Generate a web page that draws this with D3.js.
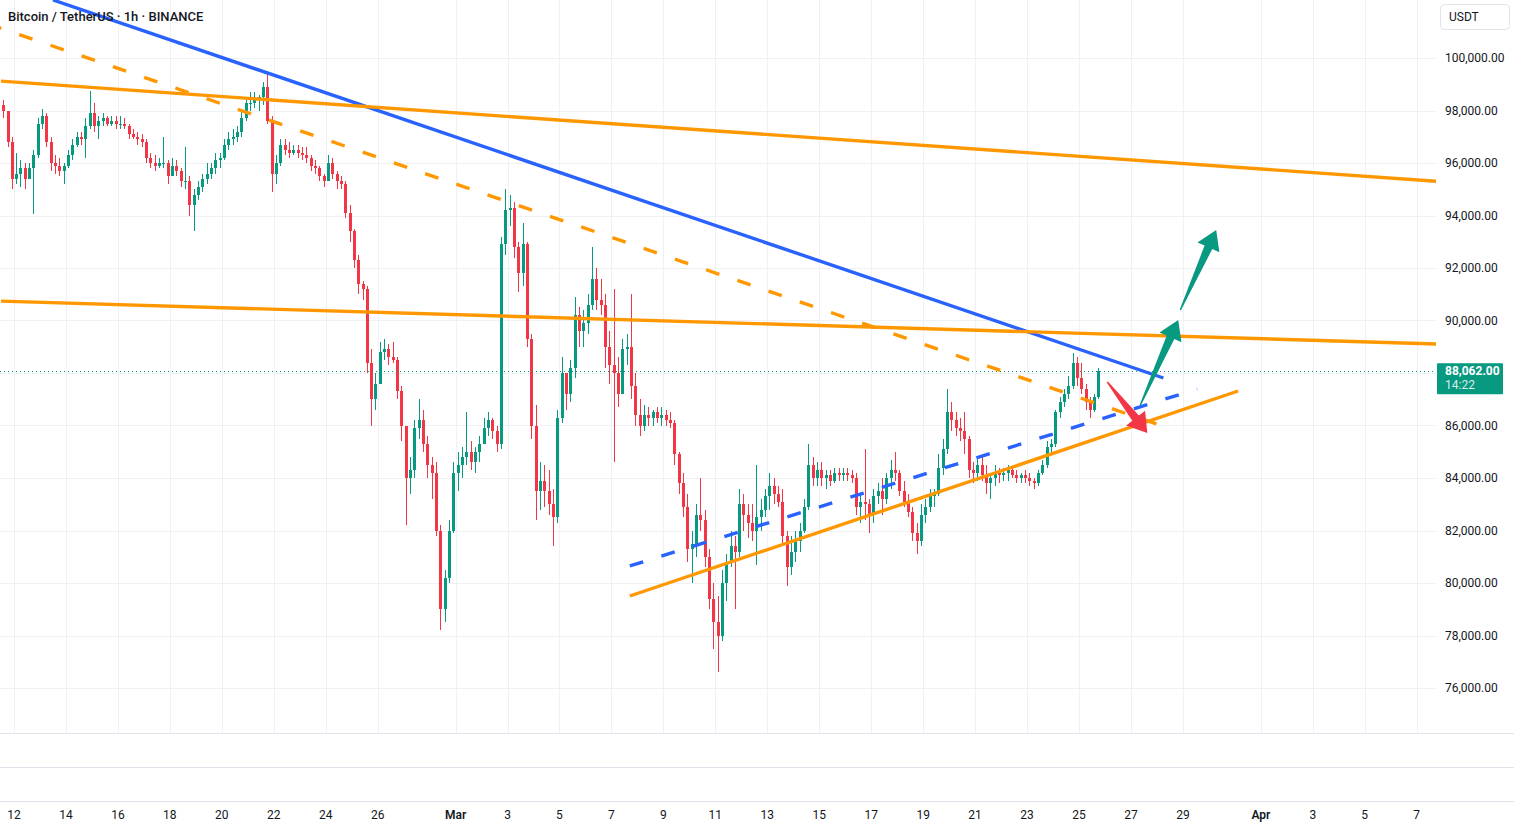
<!DOCTYPE html>
<html>
<head>
<meta charset="utf-8">
<script src="https://cdn.jsdelivr.net/npm/d3@7"></script>
<style>
  html, body { margin: 0; padding: 0; background: #fff; overflow: hidden; }
  svg { display: block; font-family: Roboto, "Liberation Sans", sans-serif; }
</style>
</head>
<body>
<svg id="chart" width="1514" height="829"></svg>
<script>
// BTC/USDT, 4h candles (prices in thousands USDT)
// first candle opens 2025-02-11 12:00 UTC, one value per 4 hours
const firstOpen = 98.2;
const highs = [
  98.4, 97.8, 97.0,
  96.4, 96.1, 96.0, 96.0, 96.5, 97.7,
  98.05, 97.9, 97.0, 96.3, 96.2, 96.0,
  96.5, 96.9, 97.2, 97.2, 97.7, 98.75,
  98.3, 97.8, 97.9, 97.8, 97.8, 97.8,
  97.8, 97.7, 97.5, 97.3, 97.2, 97.1,
  96.9, 96.4, 96.3, 96.2, 97.0, 96.1,
  96.2, 96.1, 95.8, 96.6, 95.5, 95.0,
  95.3, 95.6, 96.0, 96.0, 96.4, 96.4,
  96.9, 97.2, 97.3, 97.4, 98.0, 98.5,
  98.7, 98.7, 98.6, 99.1, 99.45, 97.8,
  96.3, 96.9, 96.9, 96.8, 96.7, 96.7,
  96.6, 96.6, 96.3, 96.1, 95.9, 95.6,
  96.3, 96.2, 95.7, 95.5, 95.3, 94.4,
  93.5, 92.5, 91.5, 91.3, 88.9, 88.0,
  89.2, 89.3, 89.1, 89.2, 88.6, 87.5,
  86.0, 84.8, 86.2, 87.0, 86.6, 85.6,
  84.8, 84.6, 82.2, 80.5, 82.4, 84.6,
  85.0, 85.2, 86.5, 85.4, 85.2, 85.6,
  86.3, 86.5, 86.3, 86.0, 93.2, 95.0,
  94.8, 94.5, 93.0, 93.7, 93.0, 89.5,
  86.8, 84.6, 84.5, 84.3, 83.6, 86.6,
  88.6, 88.0, 88.5, 90.9, 90.5, 90.4,
  91.0, 92.8, 92.0, 91.6, 91.0, 89.6,
  91.2, 88.6, 89.3, 89.5, 91.0, 88.0,
  87.0, 86.8, 86.7, 86.6, 86.7, 86.7,
  86.6, 86.5, 86.2, 85.0, 84.2, 83.4,
  82.0, 83.0, 84.0, 82.8, 81.3, 80.0,
  79.5, 80.5, 81.1, 82.0, 81.8, 83.6,
  83.4, 83.0, 83.0, 84.5, 83.2, 83.6,
  84.2, 84.0, 83.7, 83.6, 82.0, 81.8,
  82.0, 82.3, 83.2, 85.3, 84.8, 84.6,
  84.6, 84.3, 84.3, 84.4, 84.4, 84.4,
  84.4, 84.3, 84.2, 83.4, 85.1, 83.2,
  83.6, 83.8, 84.0, 84.2, 84.7, 85.0,
  84.3, 83.9, 83.4, 82.9, 82.3, 83.0,
  83.2, 83.6, 83.6, 84.9, 85.5, 87.4,
  86.9, 86.5, 86.3, 86.5, 85.6, 84.6,
  84.8, 84.8, 84.5, 84.2, 84.5, 84.4,
  84.4, 84.5, 84.4, 84.3, 84.2, 84.3,
  84.2, 84.0, 84.3, 84.7, 85.4, 85.5,
  86.6, 87.1, 87.4, 87.9, 88.75, 88.6,
  88.4, 87.6, 87.1, 87.2, 88.2
];
const lows = [
  97.7, 96.6, 95.0,
  95.2, 95.1, 95.0, 95.5, 94.05, 96.2,
  97.3, 96.6, 95.7, 95.6, 95.5, 95.2,
  95.8, 96.1, 96.6, 96.7, 96.2, 97.3,
  97.2, 96.9, 97.4, 97.4, 97.4, 97.3,
  97.3, 97.3, 96.9, 96.9, 96.7, 96.6,
  96.0, 95.8, 95.7, 95.8, 95.8, 95.2,
  95.6, 95.5, 95.1, 95.0, 94.0, 93.4,
  94.6, 94.9, 95.2, 95.4, 95.6, 95.8,
  96.1, 96.5, 96.7, 96.8, 97.0, 97.6,
  98.0, 98.1, 98.0, 98.2, 97.5, 94.9,
  95.2, 95.9, 96.3, 96.2, 96.3, 96.2,
  96.1, 96.0, 95.7, 95.6, 95.3, 95.1,
  95.3, 95.4, 95.0, 95.0, 93.9, 93.0,
  92.0, 91.0, 90.8, 88.0, 86.0, 86.6,
  87.8, 88.5, 88.3, 88.4, 87.0, 85.4,
  82.2, 83.4, 84.0, 85.5, 85.0, 84.0,
  83.2, 81.8, 78.2, 78.5, 80.0, 81.9,
  83.5, 84.0, 84.5, 84.3, 84.2, 84.6,
  85.4, 85.6, 85.5, 85.0, 85.1, 92.5,
  93.6, 92.4, 91.1, 91.3, 89.0, 85.5,
  82.4, 82.8, 82.9, 82.6, 81.4, 82.3,
  86.1, 86.6, 86.9, 87.8, 89.0, 89.0,
  89.5, 90.4, 90.4, 90.2, 88.2, 87.6,
  84.6, 86.7, 87.9, 88.3, 87.0, 86.0,
  85.6, 85.8, 86.0, 86.0, 86.1, 86.0,
  86.0, 85.9, 84.5, 83.4, 82.5, 80.8,
  80.0, 81.0, 82.0, 80.6, 79.0, 77.5,
  76.6, 77.8, 79.3, 80.6, 79.0, 81.0,
  82.0, 81.7, 81.6, 80.7, 82.0, 82.5,
  82.8, 83.0, 82.9, 81.4, 79.9, 80.3,
  80.8, 81.2, 81.9, 82.8, 83.7, 83.7,
  83.7, 83.6, 83.7, 83.8, 83.9, 83.9,
  83.9, 83.8, 82.6, 82.3, 82.4, 81.9,
  82.3, 83.0, 82.6, 83.0, 83.6, 83.9,
  83.3, 82.9, 82.5, 81.6, 81.1, 81.4,
  82.3, 82.7, 82.9, 83.3, 84.1, 84.9,
  85.8, 85.6, 85.4, 84.9, 84.0, 83.8,
  83.9, 83.9, 83.4, 83.2, 83.7, 83.8,
  83.9, 83.9, 84.0, 83.8, 83.8, 83.8,
  83.7, 83.6, 83.7, 84.1, 84.4, 84.9,
  85.2, 86.3, 86.7, 87.0, 87.4, 87.5,
  87.2, 86.6, 86.3, 86.5, 87.0
];
const closes = [
  98.0, 96.8, 95.4,
  95.6, 95.8, 95.4, 95.8, 96.3, 97.5,
  97.8, 96.8, 96.0, 95.9, 95.7, 95.9,
  96.3, 96.7, 97.0, 96.9, 97.4, 97.9,
  97.4, 97.6, 97.7, 97.5, 97.6, 97.5,
  97.5, 97.4, 97.1, 97.0, 96.9, 96.8,
  96.2, 96.0, 95.9, 96.0, 96.0, 95.5,
  95.9, 95.7, 95.3, 95.3, 94.4, 94.8,
  95.1, 95.4, 95.6, 95.8, 96.1, 96.2,
  96.7, 96.9, 97.0, 97.2, 97.7, 98.3,
  98.3, 98.4, 98.5, 98.9, 97.6, 95.6,
  96.0, 96.7, 96.5, 96.4, 96.5, 96.4,
  96.3, 96.2, 95.9, 95.8, 95.5, 95.3,
  96.0, 95.6, 95.3, 95.2, 94.1, 93.4,
  92.3, 91.4, 91.2, 88.4, 87.0, 87.6,
  88.8, 88.9, 88.6, 88.5, 87.3, 86.0,
  84.0, 84.3, 85.9, 86.2, 85.3, 84.5,
  84.2, 82.0, 79.0, 80.2, 82.0, 84.2,
  84.5, 84.8, 85.0, 84.6, 85.0, 85.3,
  85.9, 86.2, 85.8, 85.3, 92.9, 94.2,
  94.3, 92.8, 91.8, 92.9, 89.3, 86.0,
  83.5, 83.9, 83.5, 83.0, 82.5, 86.3,
  88.0, 87.2, 88.2, 90.2, 89.6, 89.9,
  90.6, 91.6, 90.8, 90.6, 89.0, 88.3,
  88.0, 87.2, 88.9, 89.0, 87.5, 86.4,
  86.0, 86.4, 86.3, 86.5, 86.3, 86.4,
  86.2, 86.1, 84.9, 83.8, 82.9, 81.3,
  81.5, 82.6, 82.4, 81.0, 79.4, 78.5,
  78.0, 80.0, 80.8, 81.4, 81.2, 83.0,
  82.6, 82.3, 82.0, 82.5, 82.8, 83.3,
  83.7, 83.4, 83.1, 81.8, 80.6, 81.2,
  81.6, 82.0, 82.9, 84.5, 84.0, 84.3,
  84.0, 84.1, 83.9, 84.2, 84.1, 84.2,
  84.1, 84.0, 82.9, 83.1, 83.0, 82.6,
  83.3, 83.5, 83.2, 84.0, 84.3, 84.2,
  83.5, 83.1, 82.7, 81.9, 81.6, 82.6,
  82.9, 83.3, 83.4, 84.4, 85.1, 86.5,
  86.2, 85.9, 85.8, 85.5, 84.3, 84.2,
  84.5, 84.1, 83.8, 84.0, 84.2, 84.1,
  84.2, 84.3, 84.1, 84.0, 84.1, 84.0,
  83.9, 83.8, 84.2, 84.5, 85.2, 85.3,
  86.5, 86.9, 87.2, 87.5, 88.4, 87.8,
  87.4, 86.9, 86.6, 87.1, 88.062
];

const priceTicks = [76000, 78000, 80000, 82000, 84000, 86000, 88000, 90000, 92000, 94000, 96000, 98000, 100000];
const timeTicks = ["2025-02-12", "2025-02-14", "2025-02-16", "2025-02-18", "2025-02-20", "2025-02-22",
  "2025-02-24", "2025-02-26", "2025-03-01", "2025-03-03", "2025-03-05", "2025-03-07", "2025-03-09",
  "2025-03-11", "2025-03-13", "2025-03-15", "2025-03-17", "2025-03-19", "2025-03-21", "2025-03-23",
  "2025-03-25", "2025-03-27", "2025-03-29", "2025-04-01", "2025-04-03", "2025-04-05", "2025-04-07"];
const timeTickLabels = ["12", "14", "16", "18", "20", "22", "24", "26", "Mar", "3", "5", "7", "9",
  "11", "13", "15", "17", "19", "21", "23", "25", "27", "29", "Apr", "3", "5", "7"];

const lastPrice = 88062;
const countdown = "14:22";

// drawings: [time, price] anchors
const solidLines = [
  { color: "#2962FF", pts: [["2025-02-13T12:00Z", 102210], ["2025-03-28T06:00Z", 87810]] },
  { color: "#FF9800", pts: [["2025-02-11T12:00Z", 99120], ["2025-04-08T00:00Z", 95290]] },
  { color: "#FF9800", pts: [["2025-02-11T12:00Z", 90740], ["2025-04-08T00:00Z", 89100]] },
  { color: "#FF9800", pts: [["2025-03-07T17:00Z", 79505], ["2025-03-31T03:00Z", 87314]] }
];
const dashedLines = [
  { color: "#FF9800", pts: [["2025-02-11T00:00Z", 101300], ["2025-03-28T10:30Z", 85905]] },
  { color: "#2962FF", pts: [["2025-03-07T17:00Z", 80648], ["2025-03-29T13:12Z", 87390]] }
];
const arrows = [
  { color: "#089981", from: ["2025-03-27T08:40Z", 86781], to: ["2025-03-28T19:40Z", 90019] },
  { color: "#089981", from: ["2025-03-28T21:36Z", 90400], to: ["2025-03-30T06:45Z", 93448] },
  { color: "#F23645", from: ["2025-03-26T02:10Z", 87657], to: ["2025-03-27T15:07Z", 85714] }
];

const width = 1514, height = 829;
const paneW = 1436, paneH = 733;
const upColor = "#089981", downColor = "#F23645";
const textColor = "#131722";

const svg = d3.select("#chart");

const x = d3.scaleUtc()
    .domain([new Date("2025-02-12T00:00Z"), new Date("2025-04-07T00:00Z")])
    .range([14, 1416.7]);
const y = d3.scaleLinear()
    .domain([76000, 100000])
    .range([688, 58]);

const barMs = 4 * 3600 * 1000;
const startMs = Date.parse("2025-02-11T12:00Z");
const candles = closes.map((c, i) => ({
  t: new Date(startMs + i * barMs + barMs / 2),
  o: (i ? closes[i - 1] : firstOpen) * 1000,
  h: highs[i] * 1000,
  l: lows[i] * 1000,
  c: c * 1000
}));

svg.append("rect").attr("width", width).attr("height", height).attr("fill", "#fff");

svg.append("defs").append("clipPath").attr("id", "pane")
  .append("rect").attr("x", 0).attr("y", 0).attr("width", paneW).attr("height", paneH);

// grid
const grid = svg.append("g").attr("shape-rendering", "crispEdges");
grid.selectAll("line.v")
    .data(timeTicks)
    .join("line")
        .attr("class", "v")
        .attr("x1", d => Math.round(x(new Date(d + "T00:00Z"))) + 0.5)
        .attr("x2", d => Math.round(x(new Date(d + "T00:00Z"))) + 0.5)
        .attr("y1", 0)
        .attr("y2", paneH)
        .attr("stroke", "#f0f1f4");
grid.selectAll("line.h")
    .data(priceTicks)
    .join("line")
        .attr("class", "h")
        .attr("x1", 0)
        .attr("x2", paneW)
        .attr("y1", d => Math.round(y(d)) + 0.5)
        .attr("y2", d => Math.round(y(d)) + 0.5)
        .attr("stroke", "#f0f1f4");

// pane separators
svg.append("g").attr("shape-rendering", "crispEdges")
  .selectAll("line")
    .data([733, 767, 801])
    .join("line")
        .attr("x1", 0)
        .attr("x2", width)
        .attr("y1", d => d + 0.5)
        .attr("y2", d => d + 0.5)
        .attr("stroke", "#e0e3eb");

const pane = svg.append("g").attr("clip-path", "url(#pane)");

// candles
const candleG = pane.append("g").attr("shape-rendering", "crispEdges");
const bodyW = 3;
candleG.selectAll("line")
    .data(candles)
    .join("line")
        .attr("x1", d => Math.round(x(d.t)) + 0.5)
        .attr("x2", d => Math.round(x(d.t)) + 0.5)
        .attr("y1", d => y(d.h))
        .attr("y2", d => y(d.l))
        .attr("stroke", d => d.c >= d.o ? upColor : downColor);
candleG.selectAll("rect")
    .data(candles)
    .join("rect")
        .attr("x", d => Math.round(x(d.t)) - 1)
        .attr("y", d => y(Math.max(d.o, d.c)))
        .attr("width", bodyW)
        .attr("height", d => Math.max(1, Math.abs(y(d.o) - y(d.c))))
        .attr("fill", d => d.c >= d.o ? upColor : downColor);

// last price dotted line
pane.append("line")
    .attr("x1", 0)
    .attr("x2", paneW)
    .attr("y1", Math.round(y(lastPrice)) + 0.5)
    .attr("y2", Math.round(y(lastPrice)) + 0.5)
    .attr("stroke", upColor)
    .attr("stroke-width", 1)
    .attr("stroke-dasharray", "1,3");

// trend lines
const line = d3.line()
    .x(d => x(new Date(d[0])))
    .y(d => y(d[1]));

pane.selectAll("path.solid")
    .data(solidLines)
    .join("path")
        .attr("class", "solid")
        .attr("d", d => line(d.pts))
        .attr("fill", "none")
        .attr("stroke", d => d.color)
        .attr("stroke-width", 3.4);

pane.selectAll("path.dashed")
    .data(dashedLines)
    .join("path")
        .attr("class", "dashed")
        .attr("d", d => line(d.pts))
        .attr("fill", "none")
        .attr("stroke", d => d.color)
        .attr("stroke-width", 3.4)
        .attr("stroke-dasharray", "14,19");

// arrow markers
function arrowPoints(a) {
  const x0 = x(new Date(a.from[0])), y0 = y(a.from[1]);
  const x1 = x(new Date(a.to[0])), y1 = y(a.to[1]);
  const len = Math.hypot(x1 - x0, y1 - y0);
  const ux = (x1 - x0) / len, uy = (y1 - y0) / len;
  const nx = -uy, ny = ux;
  const headLen = 19, headHalf = 12, shaftHalf = 4.2, tailHalf = 0.7;
  const bx = x1 - ux * headLen, by = y1 - uy * headLen;
  return [
    [x0 + nx * tailHalf, y0 + ny * tailHalf],
    [bx + nx * shaftHalf, by + ny * shaftHalf],
    [bx + nx * headHalf, by + ny * headHalf],
    [x1, y1],
    [bx - nx * headHalf, by - ny * headHalf],
    [bx - nx * shaftHalf, by - ny * shaftHalf],
    [x0 - nx * tailHalf, y0 - ny * tailHalf]
  ].map(p => p.join(",")).join(" ");
}

pane.selectAll("polygon")
    .data(arrows)
    .join("polygon")
        .attr("points", arrowPoints)
        .attr("fill", d => d.color);

// title
svg.append("text")
    .attr("x", 8)
    .attr("y", 21)
    .attr("font-size", 13)
    .attr("font-weight", 500)
    .attr("fill", textColor)
    .text("Bitcoin / TetherUS · 1h · BINANCE");

// price scale
svg.append("rect")
    .attr("x", 1440.5)
    .attr("y", 4.5)
    .attr("width", 69)
    .attr("height", 25)
    .attr("rx", 4)
    .attr("fill", "#fff")
    .attr("stroke", "#e0e3eb");
svg.append("text")
    .attr("x", 1449)
    .attr("y", 17)
    .attr("dominant-baseline", "central")
    .attr("font-size", 12)
    .attr("fill", textColor)
    .text("USDT");

const fmtPrice = d3.format(",.2f");
svg.append("g")
  .selectAll("text")
    .data(priceTicks)
    .join("text")
        .attr("x", 1445)
        .attr("y", d => y(d))
        .attr("dominant-baseline", "central")
        .attr("font-size", 12)
        .attr("fill", textColor)
        .text(d => fmtPrice(d));

const tagY = y(lastPrice);
svg.append("rect")
    .attr("x", 1437)
    .attr("y", tagY - 8)
    .attr("width", 66)
    .attr("height", 31)
    .attr("rx", 1)
    .attr("fill", upColor);
svg.append("text")
    .attr("x", 1445)
    .attr("y", tagY)
    .attr("dominant-baseline", "central")
    .attr("font-size", 12)
    .attr("font-weight", 700)
    .attr("fill", "#fff")
    .text(fmtPrice(lastPrice));
svg.append("text")
    .attr("x", 1445)
    .attr("y", tagY + 14)
    .attr("dominant-baseline", "central")
    .attr("font-size", 12)
    .attr("fill", "#ffffff")
    .attr("fill-opacity", 0.85)
    .text(countdown);

// time scale
svg.append("g")
  .selectAll("text")
    .data(timeTicks)
    .join("text")
        .attr("x", d => x(new Date(d + "T00:00Z")))
        .attr("y", 815)
        .attr("text-anchor", "middle")
        .attr("dominant-baseline", "central")
        .attr("font-size", 12)
        .attr("font-weight", (d, i) => isNaN(+timeTickLabels[i]) ? 600 : 400)
        .attr("fill", textColor)
        .text((d, i) => timeTickLabels[i]);
</script>
</body>
</html>
